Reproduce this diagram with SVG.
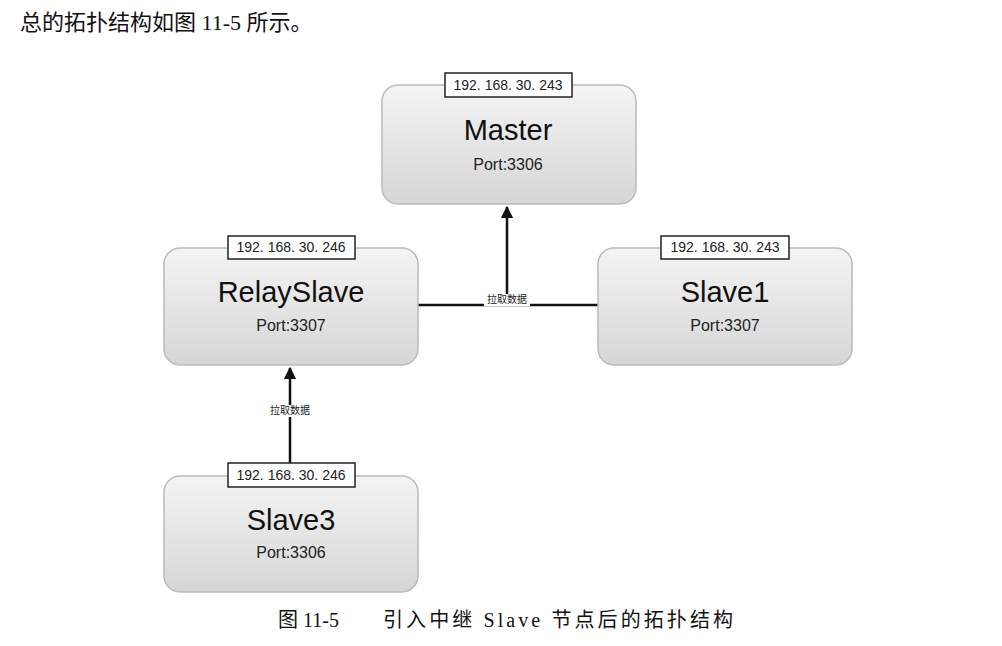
<svg xmlns="http://www.w3.org/2000/svg" width="1002" height="646" viewBox="0 0 1002 646">
<defs>
<linearGradient id="g" x1="0" y1="0" x2="0" y2="1"><stop offset="0" stop-color="#f4f4f4"/><stop offset="1" stop-color="#d6d6d6"/></linearGradient>
<marker id="ar" viewBox="0 0 10 10" refX="9" refY="5" markerWidth="5" markerHeight="5" orient="auto"><path d="M0,0L10,5L0,10z" fill="#111"/></marker>
</defs>
<style>
.box{fill:url(#g);stroke:#bbb;stroke-width:1.5}
.ip{fill:#fff;stroke:#222;stroke-width:1.5}
.ipt{font-family:"Liberation Sans",sans-serif;font-size:14px;text-anchor:middle;fill:#222}
.name{font-family:"Liberation Sans",sans-serif;font-size:29px;text-anchor:middle;fill:#111}
.port{font-family:"Liberation Sans",sans-serif;font-size:16px;text-anchor:middle;fill:#222}
.lbl{font-family:"Noto Sans CJK SC",sans-serif;font-size:10px;text-anchor:middle;fill:#222}
.cn{font-family:"Liberation Serif","Noto Sans CJK SC",serif;fill:#111}
line{stroke:#111;stroke-width:2.5}
</style>
<rect width="1002" height="646" fill="#fff"/>
<text class="cn" x="20" y="30" font-size="22">总的拓扑结构如图 11-5 所示。</text>
<g id="connectors">
<line x1="417" y1="305" x2="598" y2="305"/>
<line x1="507" y1="305" x2="507" y2="207" marker-end="url(#ar)"/>
<rect x="484" y="294" width="46" height="12" fill="#fff"/>
<text class="lbl" x="507" y="303">拉取数据</text>
<line x1="290" y1="476" x2="290" y2="368" marker-end="url(#ar)"/>
<rect x="267" y="405" width="46" height="12" fill="#fff"/>
<text class="lbl" x="290" y="414">拉取数据</text>
</g>
<g id="master">
<rect class="box" x="382" y="85" width="254" height="119" rx="16"/>
<rect class="ip" x="445" y="73" width="127" height="24"/>
<text class="ipt" x="508" y="90">192. 168. 30. 243</text>
<text class="name" x="508" y="140">Master</text>
<text class="port" x="508" y="170">Port:3306</text>
</g>
<g id="relayslave">
<rect class="box" x="164" y="248" width="254" height="117" rx="16"/>
<rect class="ip" x="228" y="236" width="127" height="23"/>
<text class="ipt" x="291" y="252">192. 168. 30. 246</text>
<text class="name" x="291" y="302">RelaySlave</text>
<text class="port" x="291" y="331">Port:3307</text>
</g>
<g id="slave1">
<rect class="box" x="598" y="248" width="254" height="117" rx="16"/>
<rect class="ip" x="661" y="236" width="128" height="23"/>
<text class="ipt" x="725" y="252">192. 168. 30. 243</text>
<text class="name" x="725" y="302">Slave1</text>
<text class="port" x="725" y="331">Port:3307</text>
</g>
<g id="slave3">
<rect class="box" x="164" y="476" width="254" height="116" rx="16"/>
<rect class="ip" x="228" y="463" width="127" height="24"/>
<text class="ipt" x="291" y="480">192. 168. 30. 246</text>
<text class="name" x="291" y="530">Slave3</text>
<text class="port" x="291" y="558">Port:3306</text>
</g>
<text class="cn" x="278" y="627" font-size="20">图 11-5</text>
<text class="cn" x="383" y="627" font-size="20" textLength="350" lengthAdjust="spacing">引入中继 Slave 节点后的拓扑结构</text>
</svg>
